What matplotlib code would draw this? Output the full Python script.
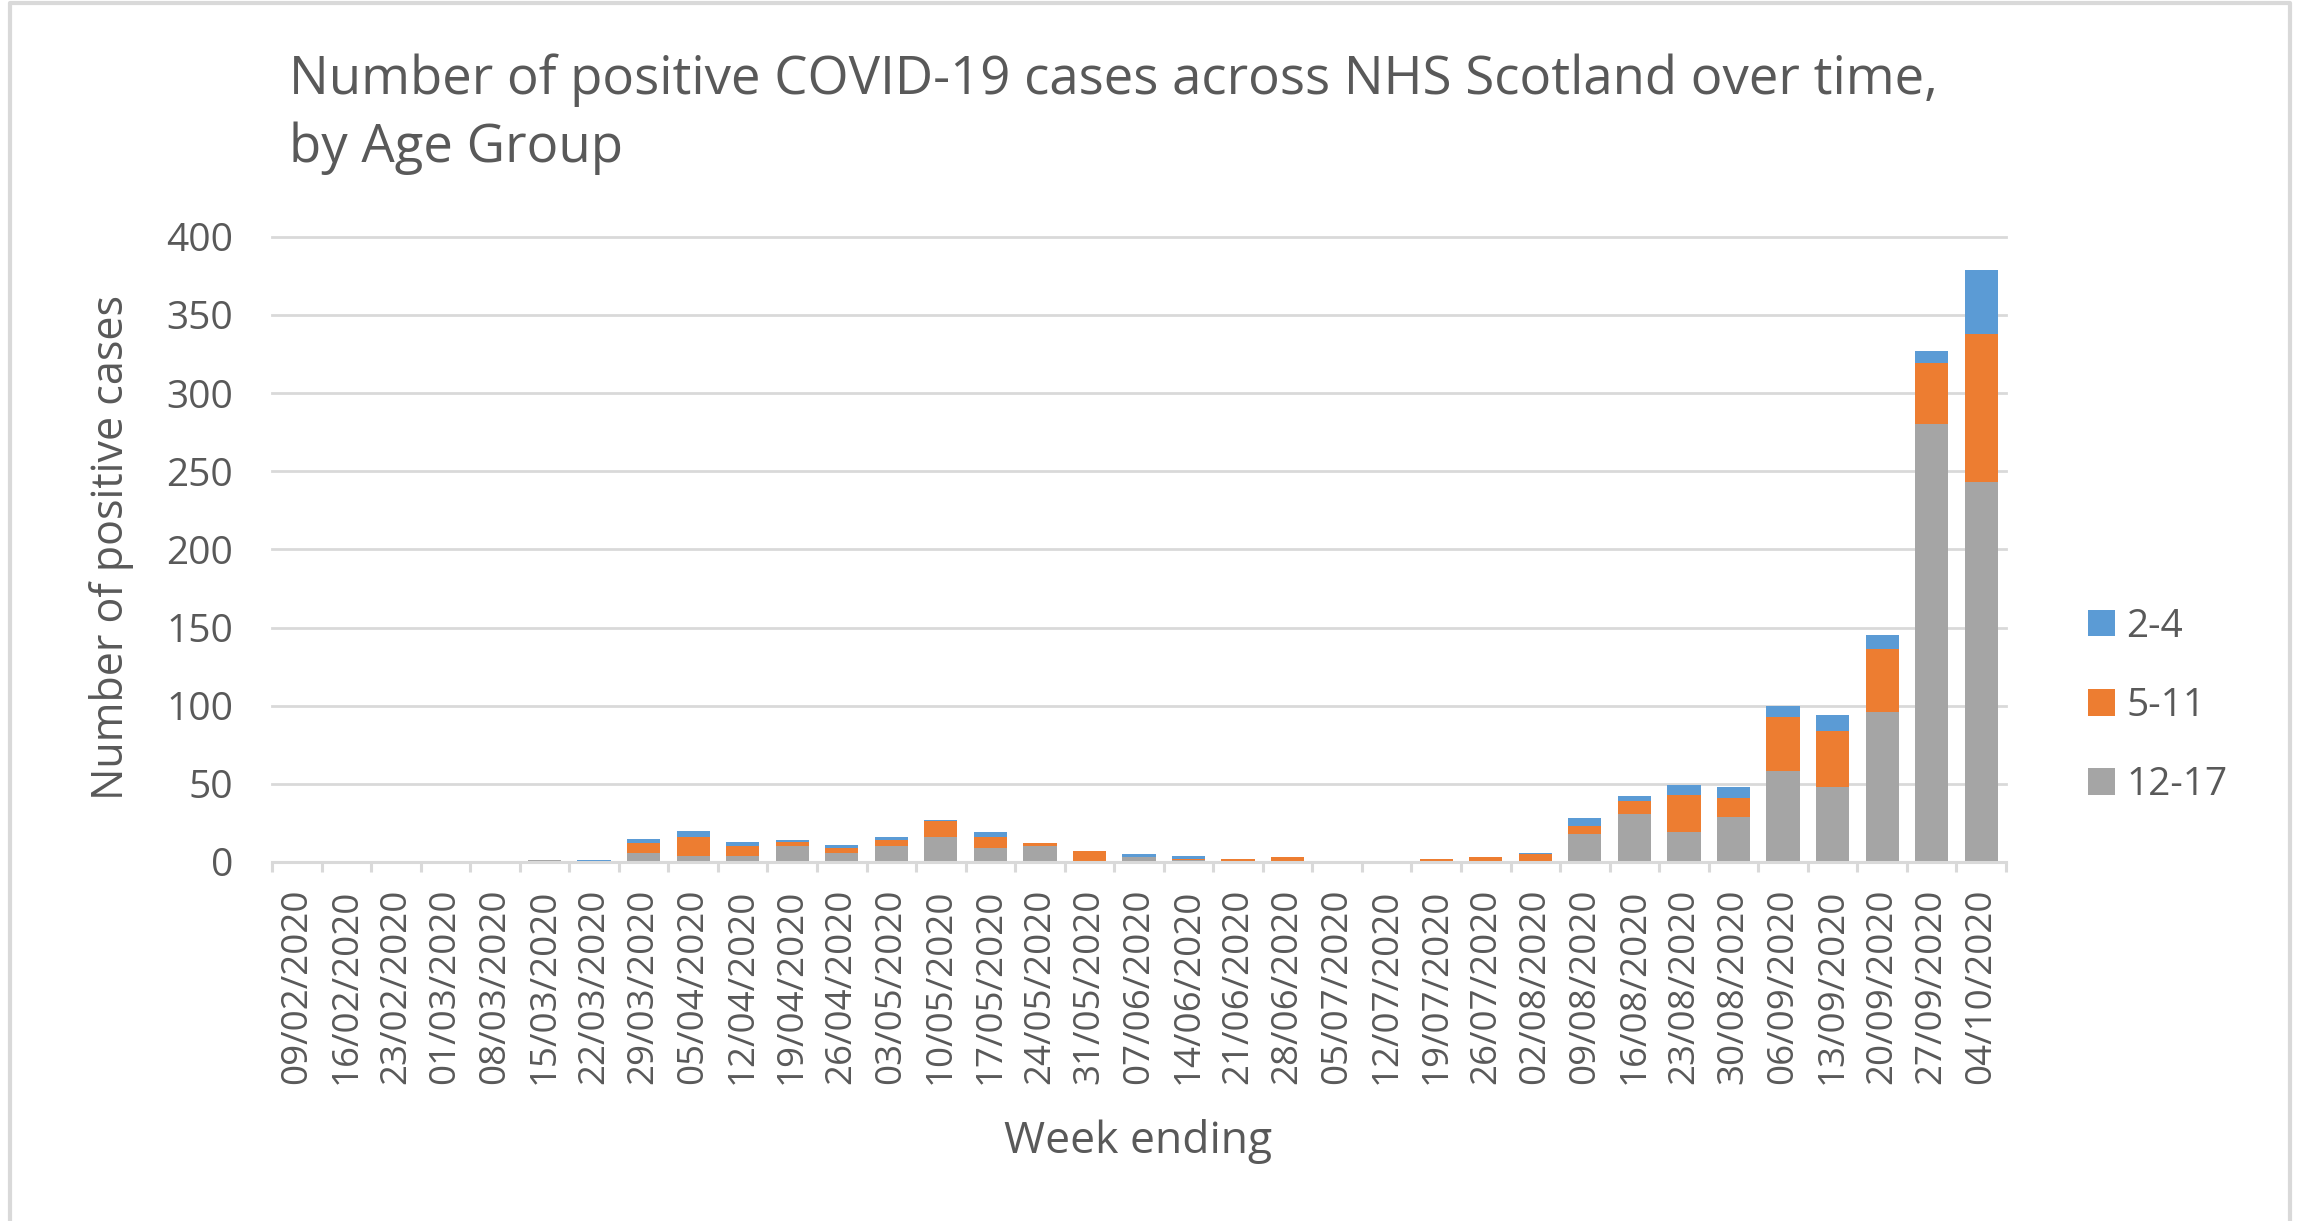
import numpy as np
import matplotlib
matplotlib.use("Agg")
import matplotlib.pyplot as plt
from matplotlib.patches import Patch
from matplotlib.lines import Line2D

plt.rcParams['font.family'] = ['Open Sans', 'DejaVu Sans']

# week ending dates
weeks = ['09/02/2020', '16/02/2020', '23/02/2020', '01/03/2020', '08/03/2020',
         '15/03/2020', '22/03/2020', '29/03/2020', '05/04/2020', '12/04/2020',
         '19/04/2020', '26/04/2020', '03/05/2020', '10/05/2020', '17/05/2020',
         '24/05/2020', '31/05/2020', '07/06/2020', '14/06/2020', '21/06/2020',
         '28/06/2020', '05/07/2020', '12/07/2020', '19/07/2020', '26/07/2020',
         '02/08/2020', '09/08/2020', '16/08/2020', '23/08/2020', '30/08/2020',
         '06/09/2020', '13/09/2020', '20/09/2020', '27/09/2020', '04/10/2020']

# positive cases per age group
age_12_17 = [0, 0, 0, 0, 0, 1, 0, 6, 4, 4, 10, 6, 10, 16, 9, 10, 0, 3, 1, 0,
             0, 0, 0, 0, 0, 0, 18, 31, 19, 29, 58, 48, 96, 280, 243]
age_5_11 = [0, 0, 0, 0, 0, 0, 0, 6, 12, 6, 3, 3, 4, 10, 7, 2, 7, 0, 1, 2,
            3, 0, 0, 2, 3, 5, 5, 8, 24, 12, 35, 36, 40, 39, 95]
age_2_4 = [0, 0, 0, 0, 0, 0, 1, 3, 4, 3, 1, 2, 2, 1, 3, 0, 0, 2, 2, 0,
           0, 0, 0, 0, 0, 1, 5, 3, 6, 7, 7, 10, 9, 8, 41]

c_grey = '#A5A5A5'
c_orange = '#ED7D31'
c_blue = '#5B9BD5'
txt = '#595959'
line_c = '#D9D9D9'

W, H = 2302, 1221
fig = plt.figure(figsize=(W / 100, H / 100), dpi=100)
ax = fig.add_axes([272 / W, 1 - 862 / H, (2006 - 272) / W, (862 - 236.7) / H])

x = np.arange(len(weeks))
g = np.array(age_12_17)
o = np.array(age_5_11)
b = np.array(age_2_4)
bw = 0.67
ax.bar(x, g, width=bw, color=c_grey, zorder=3)
ax.bar(x, o, width=bw, bottom=g, color=c_orange, zorder=3)
ax.bar(x, b, width=bw, bottom=g + o, color=c_blue, zorder=3)

ax.set_xlim(-0.5, len(weeks) - 0.5)
ax.set_ylim(0, 400)
ax.set_yticks(np.arange(0, 401, 50))
ax.yaxis.grid(True, color=line_c, linewidth=2.0, zorder=0)
for gl in ax.get_ygridlines():
    gl.set_clip_on(False)

for s in ['left', 'right', 'top']:
    ax.spines[s].set_visible(False)
ax.spines['bottom'].set_color(line_c)
ax.spines['bottom'].set_linewidth(2.2)
ax.spines['bottom'].set_zorder(4)

ax.set_xticks(x)
ax.set_xticklabels(weeks, rotation=90, va='top', ha='center')
ax.set_xticks(np.arange(-0.5, len(weeks), 1), minor=True)
ax.tick_params(axis='x', which='major', length=0, pad=19, labelsize=26.5, labelcolor=txt)
ax.tick_params(axis='x', which='minor', length=7.5, width=2.2, color=line_c, direction='out')
ax.tick_params(axis='y', length=0, pad=28, labelsize=28, labelcolor=txt)

# titles and axis labels
fig.text(289 / W, 1 - 94 / H, 'Number of positive COVID-19 cases across NHS Scotland over time,',
         fontsize=38, color=txt, ha='left', va='baseline')
fig.text(289 / W, 1 - 162 / H, 'by Age Group', fontsize=38, color=txt, ha='left', va='baseline')
fig.text(112 / W, 1 - 547 / H, 'Number of positive cases', rotation=90, fontsize=31,
         color=txt, ha='center', va='center')
fig.text(1138 / W, 1 - 1141 / H, 'Week ending', fontsize=32, color=txt, ha='center', va='center')

handles = [Patch(facecolor=c_blue), Patch(facecolor=c_orange), Patch(facecolor=c_grey)]
leg = fig.legend(handles, ['2-4', '5-11', '12-17'], loc='center left',
                 bbox_to_anchor=(2069 / W, 1 - 706 / H), frameon=False, fontsize=28,
                 handlelength=0.67, handleheight=0.67, handletextpad=0.3,
                 labelspacing=1.06, borderpad=0)
for t in leg.get_texts():
    t.set_color(txt)

# chart border (top, left, right)
bl, br, bt = 10 / W, 2290 / W, 1 - 2.5 / H
fig.add_artist(Line2D([bl, bl, br, br], [0, bt, bt, 0], transform=fig.transFigure,
                      color=line_c, linewidth=3))

fig.savefig('out.png', dpi=100)
